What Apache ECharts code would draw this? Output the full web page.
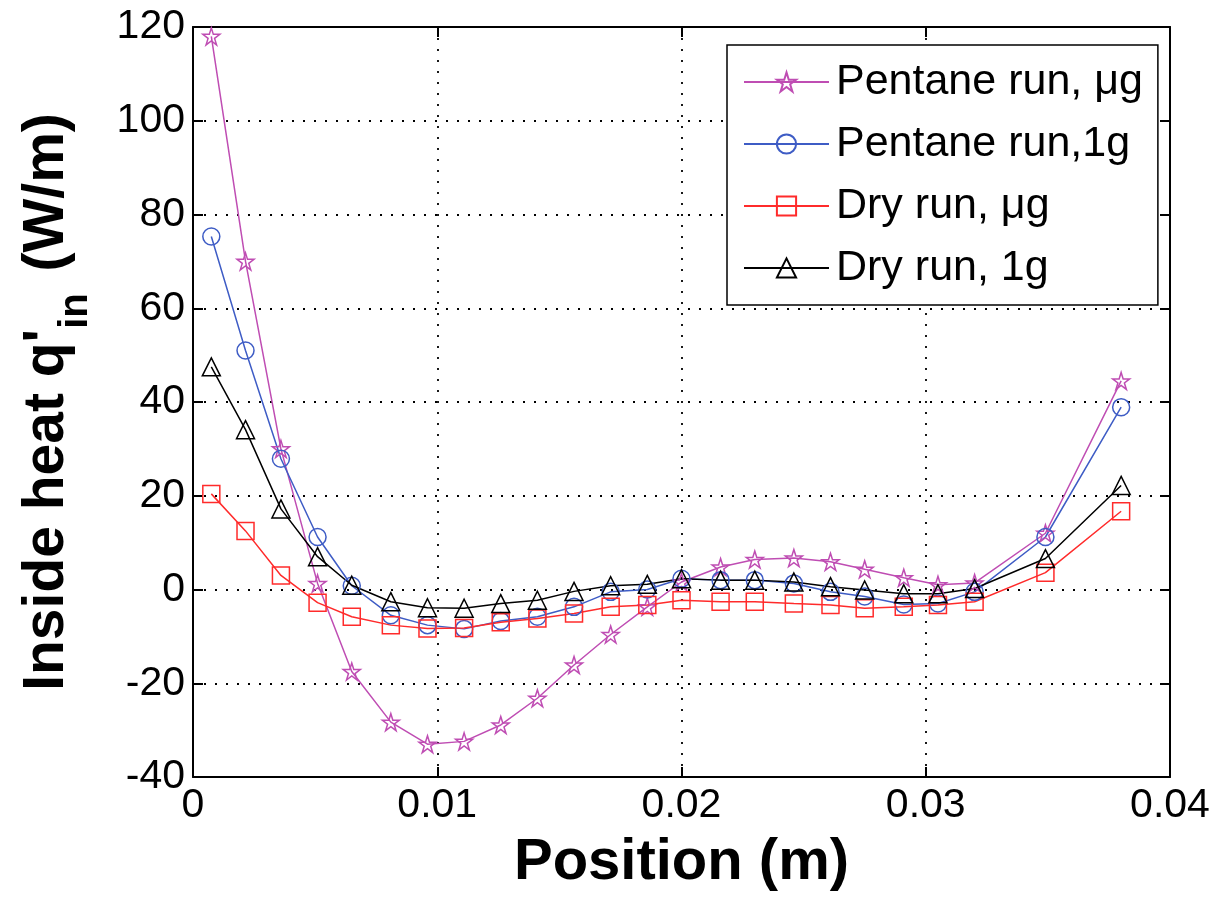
<!DOCTYPE html>
<html>
<head>
<meta charset="utf-8">
<script src="https://cdn.jsdelivr.net/npm/echarts@6/dist/echarts.min.js"></script>
<style>
html,body{margin:0;padding:0;background:#fff;}
#chart{width:1218px;height:897px;}
</style>
</head>
<body>
<div id="chart"></div>
<script>
// ---- data ----
var positions = [0.00075, 0.00215, 0.0036, 0.0051, 0.0065, 0.0081, 0.0096, 0.0111, 0.0126, 0.0141, 0.0156, 0.0171,
                 0.0186, 0.0200, 0.0216, 0.0230, 0.0246, 0.0261, 0.0275, 0.0291, 0.0305, 0.0320, 0.0349, 0.0380];
var pentaneMicroG = [118, 70, 30, 1.3, -17.5, -28.3, -33, -32.4, -28.9, -23.2, -16.1, -9.6,
                     -3.7, 1.6, 4.8, 6.4, 6.7, 5.9, 4.3, 2.5, 1.0, 1.4, 12, 44.5];
var pentane1G = [75.3, 51, 27.9, 11.2, 0.8, -5.5, -7.6, -8.4, -6.7, -5.8, -3.7, -0.5,
                 0, 2.3, 2, 2, 1.3, -0.5, -1.5, -3.2, -3, -0.5, 11.2, 38.9];
var dryMicroG = [20.4, 12.5, 3.0, -2.8, -5.8, -7.6, -8.3, -8.2, -7.0, -6.2, -5.1, -3.7,
                 -3.3, -2.3, -2.6, -2.6, -3.0, -3.3, -4.0, -3.7, -3.3, -2.6, 3.6, 16.7];
var dry1G = [47.5, 34.1, 17.2, 7.0, 0.9, -2.6, -3.9, -4.0, -3.0, -2.3, -0.4, 0.8,
             1.1, 2.3, 2.0, 2.0, 1.6, 0.6, -0.1, -0.9, -0.9, 0.2, 6.6, 22.2];
var seriesNames = ['Pentane run, \u03bcg', 'Pentane run,1g', 'Dry run, \u03bcg', 'Dry run, 1g'];
var xTickLabels = ['0', '0.01', '0.02', '0.03', '0.04'];
var yTickLabels = ['-40', '-20', '0', '20', '40', '60', '80', '100', '120'];

// ---- build ----
var FONT = '"Liberation Sans", Arial, Helvetica, sans-serif';
var STAR = 'path://M100 0L122.45 69.1L195.1 69.1L136.3 111.8L158.8 180.9L100 138.2L41.2 180.9L63.7 111.8L4.9 69.1L77.55 69.1Z';
function pairs(ys) { return ys.map(function (y, i) { return [positions[i], y]; }); }
function mkSeries(name, ys, color, symbol, size) {
  return {
    name: name, type: 'line', data: pairs(ys),
    symbol: symbol, symbolSize: size,
    lineStyle: { color: color, width: 1.5 },
    itemStyle: { color: 'rgba(255,255,255,0)', borderColor: color, borderWidth: 1.5 },
    emphasis: { disabled: true },
    z: 3
  };
}
var chart = echarts.init(document.getElementById('chart'), null, { renderer: 'canvas' });
var axisLine = { show: true, onZero: false, lineStyle: { color: '#000', width: 2 } };
var tickIn = { show: true, inside: true, length: 10, lineStyle: { color: '#000', width: 2 } };
var grid = { show: true, lineStyle: { color: '#000', width: 1.8, type: [2, 9] } };
chart.setOption({
  animation: false,
  backgroundColor: '#fff',
  textStyle: { fontFamily: FONT },
  grid: { left: 193, right: 48, top: 27, bottom: 118, containLabel: false },
  legend: {
    orient: 'vertical', left: 727, top: 45,
    padding: [12, 15, 12, 16],
    itemWidth: 85, itemHeight: 24, itemGap: 12,
    backgroundColor: '#fff', borderColor: '#000', borderWidth: 1.5,
    selectedMode: false,
    textStyle: { fontFamily: FONT, fontSize: 43, color: '#000', lineHeight: 50, padding: [0, 0, 0, 2] },
    data: seriesNames
  },
  xAxis: [{
    type: 'value', position: 'bottom', min: 0, max: 0.04, interval: 0.01,
    axisLine: axisLine, axisTick: tickIn, splitLine: grid,
    axisLabel: { fontFamily: FONT, fontSize: 41, color: '#000', margin: 8,
      formatter: function (v) { return xTickLabels[Math.round(v / 0.01)]; } },
    name: 'Position (m)', nameLocation: 'middle', nameGap: 57,
    nameTextStyle: { fontFamily: FONT, fontSize: 58, fontWeight: 'bold', color: '#000' }
  }, {
    type: 'value', position: 'top', min: 0, max: 0.04, interval: 0.01,
    axisLine: axisLine, axisTick: tickIn, splitLine: { show: false }, axisLabel: { show: false }
  }],
  yAxis: [{
    type: 'value', position: 'left', min: -40, max: 120, interval: 20,
    axisLine: axisLine, axisTick: tickIn, splitLine: grid,
    axisLabel: { fontFamily: FONT, fontSize: 41, color: '#000', margin: 8,
      formatter: function (v) { return yTickLabels[Math.round((v + 40) / 20)]; } },
    name: "{m|Inside heat q'}{s|in}{m| (W/m)}", nameLocation: 'middle', nameGap: 114, nameRotate: 90,
    nameTextStyle: { fontFamily: FONT, fontSize: 57, fontWeight: 'bold', color: '#000',
      rich: {
        m: { fontFamily: FONT, fontSize: 57, fontWeight: 'bold', color: '#000', lineHeight: 60, verticalAlign: 'top' },
        s: { fontFamily: FONT, fontSize: 40, fontWeight: 'bold', color: '#000', lineHeight: 40, verticalAlign: 'top', padding: [37, 6, 0, 0] }
      } }
  }, {
    type: 'value', position: 'right', min: -40, max: 120, interval: 20,
    axisLine: axisLine, axisTick: tickIn, splitLine: { show: false }, axisLabel: { show: false }
  }],
  series: [
    mkSeries(seriesNames[0], pentaneMicroG, '#BF4DB3', STAR, 17),
    mkSeries(seriesNames[1], pentane1G, '#3E5CC5', 'circle', 17),
    mkSeries(seriesNames[2], dryMicroG, '#FF2B2B', 'rect', 17),
    mkSeries(seriesNames[3], dry1G, '#000000', 'triangle', 18)
  ]
});
</script>
</body>
</html>
